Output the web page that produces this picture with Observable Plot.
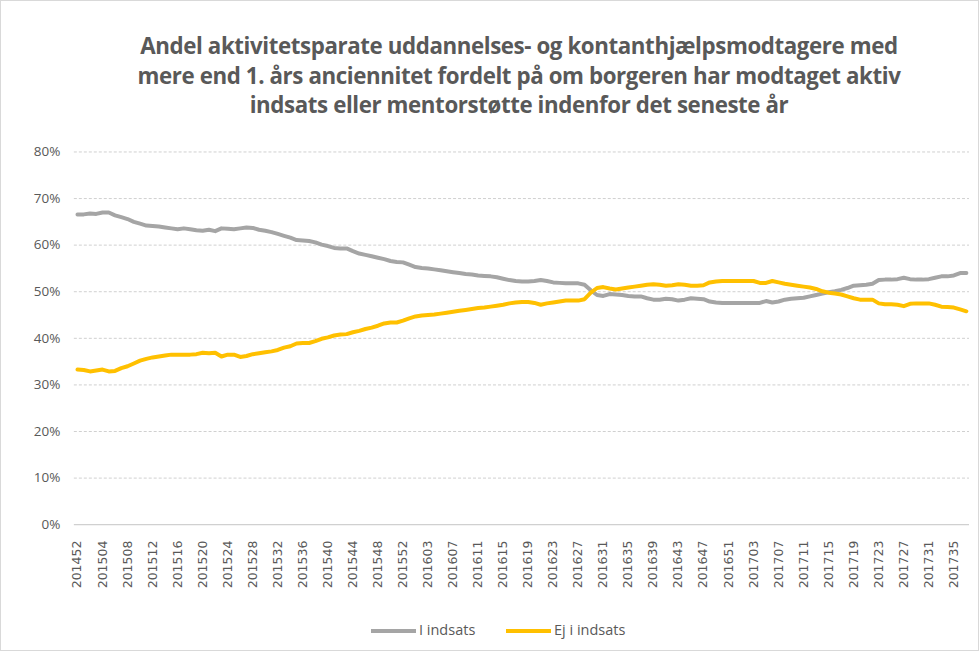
<!DOCTYPE html>
<html><head><meta charset="utf-8">
<script src="https://cdn.jsdelivr.net/npm/d3@7"></script>
<script src="https://cdn.jsdelivr.net/npm/@observablehq/plot@0.6"></script>
<style>
body{margin:0;background:#fff;}
#wrap{position:relative;width:977px;height:649px;overflow:hidden;font-family:"Open Sans",sans-serif;border:1px solid #d9d9d9;background:#fff;}
#title{position:absolute;left:68px;top:30px;width:900px;text-align:center;font-weight:700;font-size:22.3px;line-height:29.5px;color:#595959;letter-spacing:-0.4px;white-space:nowrap;}
#chart{position:absolute;left:0;top:130px;}
#legend{position:absolute;left:0;top:617px;width:979px;height:24px;font-size:14.5px;color:#595959;}
.sw{position:absolute;top:11px;height:4px;}
.lt{position:absolute;top:0;line-height:24px;}
</style></head><body>
<div id="wrap">
<div id="title">Andel aktivitetsparate uddannelses- og kontanthjælpsmodtagere med<br>mere end 1. års anciennitet fordelt på om borgeren har modtaget aktiv<br>indsats eller mentorstøtte indenfor det seneste år</div>
<div id="chart"></div>
<div id="legend"></div>
</div>
<script>
const categories = [
"201452",
"201501","201502","201503","201504","201505","201506","201507","201508","201509","201510",
"201511","201512","201513","201514","201515","201516","201517","201518","201519","201520",
"201521","201522","201523","201524","201525","201526","201527","201528","201529","201530",
"201531","201532","201533","201534","201535","201536","201537","201538","201539","201540",
"201541","201542","201543","201544","201545","201546","201547","201548","201549","201550",
"201551","201552","201553",
"201601","201602","201603","201604","201605","201606","201607","201608","201609","201610",
"201611","201612","201613","201614","201615","201616","201617","201618","201619","201620",
"201621","201622","201623","201624","201625","201626","201627","201628","201629","201630",
"201631","201632","201633","201634","201635","201636","201637","201638","201639","201640",
"201641","201642","201643","201644","201645","201646","201647","201648","201649","201650",
"201651","201652",
"201701","201702","201703","201704","201705","201706","201707","201708","201709","201710",
"201711","201712","201713","201714","201715","201716","201717","201718","201719","201720",
"201721","201722","201723","201724","201725","201726","201727","201728","201729","201730",
"201731","201732","201733","201734","201735","201736","201737"
];
const seriesNames = ["I indsats", "Ej i indsats"];
const seriesColors = ["#A5A5A5", "#FFC000"];
const iIndsats = [
66.6,66.6,66.8,66.7,67.0, 67.0,66.4,66.0,65.6,65.0,
64.6,64.2,64.1,64.0,63.8, 63.6,63.4,63.6,63.4,63.2,
63.1,63.3,63.0,63.6,63.5, 63.4,63.6,63.8,63.7,63.3,
63.1,62.8,62.4,62.0,61.6, 61.1,61.0,60.9,60.6,60.1,
59.8,59.4,59.3,59.3,58.7, 58.2,57.9,57.6,57.3,57.0,
56.6,56.4,56.3,55.8,55.3, 55.1,55.0,54.8,54.6,54.4,
54.2,54.0,53.8,53.7,53.5, 53.4,53.3,53.1,52.8,52.5,
52.3,52.2,52.2,52.3,52.5, 52.3,52.0,51.9,51.8,51.8,
51.8,51.5,50.3,49.3,49.1, 49.5,49.4,49.3,49.1,49.0,
49.0,48.6,48.3,48.3,48.5, 48.4,48.1,48.3,48.6,48.5,
48.4,47.9,47.7,47.6,47.6, 47.6,47.6,47.6,47.6,47.6,
48.0,47.7,47.9,48.3,48.5, 48.6,48.7,49.0,49.3,49.6,
49.9,50.1,50.4,50.8,51.3, 51.4,51.5,51.7,52.5,52.6,
52.6,52.7,53.0,52.7,52.6, 52.6,52.7,53.0,53.3,53.3,
53.5,54.0,54.0
];
const ejIIndsats = [
33.3,33.2,32.9,33.1,33.3, 32.9,33.0,33.6,34.0,34.6,
35.2,35.6,35.9,36.1,36.3, 36.5,36.5,36.5,36.5,36.6,
36.9,36.8,36.9,36.1,36.5, 36.5,36.0,36.2,36.6,36.8,
37.0,37.2,37.5,38.0,38.3, 38.9,39.0,39.0,39.4,39.9,
40.2,40.6,40.8,40.9,41.3, 41.6,42.0,42.3,42.7,43.2,
43.4,43.4,43.8,44.3,44.7, 44.9,45.0,45.1,45.3,45.5,
45.7,45.9,46.1,46.3,46.5, 46.6,46.8,47.0,47.2,47.5,
47.7,47.8,47.8,47.6,47.2, 47.5,47.7,47.9,48.1,48.1,
48.1,48.4,49.8,50.8,51.0, 50.7,50.5,50.7,50.9,51.1,
51.3,51.5,51.6,51.5,51.3, 51.4,51.6,51.5,51.3,51.3,
51.4,52.0,52.2,52.3,52.3, 52.3,52.3,52.3,52.3,51.9,
51.9,52.3,52.0,51.7,51.5, 51.3,51.1,50.9,50.6,50.1,
49.8,49.6,49.4,49.0,48.6, 48.3,48.3,48.3,47.5,47.3,
47.3,47.2,46.9,47.4,47.5, 47.5,47.5,47.2,46.8,46.7,
46.6,46.2,45.8
];
const yTicks = [0, 10, 20, 30, 40, 50, 60, 70, 80];
const xTickLabels = categories.filter((d, i) => i % 4 === 0);

const rows = [];
categories.forEach((c, i) => {
  rows.push({week: c, value: iIndsats[i], series: seriesNames[0]});
  rows.push({week: c, value: ejIIndsats[i], series: seriesNames[1]});
});

const chart = Plot.plot({
  width: 979,
  height: 480,
  marginLeft: 73,
  marginRight: 9,
  marginTop: 20.5,
  marginBottom: 86,
  style: {fontFamily: "Open Sans, sans-serif", color: "#595959", background: "transparent"},
  x: {type: "point", domain: categories, padding: 0.5, label: null},
  y: {domain: [0, 80], label: null},
  color: {domain: seriesNames, range: seriesColors},
  marks: [
    Plot.ruleY(yTicks.filter(d => d > 0), {stroke: "#d0d0d0", strokeDasharray: "3,2", strokeWidth: 1}),
    Plot.ruleY([0], {stroke: "#d0d0d0", strokeWidth: 1.3}),
    Plot.axisY({ticks: yTicks, tickFormat: d => d + "%", tickSize: 0, tickPadding: 14, fontSize: 13.5, fill: "#595959"}),
    Plot.axisX({ticks: xTickLabels, tickSize: 0, tickPadding: 16, tickRotate: -90, fontSize: 12.5, fill: "#595959", fontFamily: "DejaVu Sans", letterSpacing: "0.6px"}),
    Plot.line(rows, {x: "week", y: "value", z: "series", stroke: "series", strokeWidth: 4, strokeLinejoin: "round", strokeLinecap: "round"})
  ]
});
document.getElementById("chart").appendChild(chart);

const legend = document.getElementById("legend");
const legendPos = [[370, 418], [505, 553]];
seriesNames.forEach((name, i) => {
  const sw = document.createElement("div");
  sw.className = "sw";
  sw.style.left = legendPos[i][0] + "px";
  sw.style.width = "45px";
  sw.style.background = seriesColors[i];
  legend.appendChild(sw);
  const t = document.createElement("div");
  t.className = "lt";
  t.style.left = legendPos[i][1] + "px";
  t.textContent = name;
  legend.appendChild(t);
});
</script>
</body></html>
